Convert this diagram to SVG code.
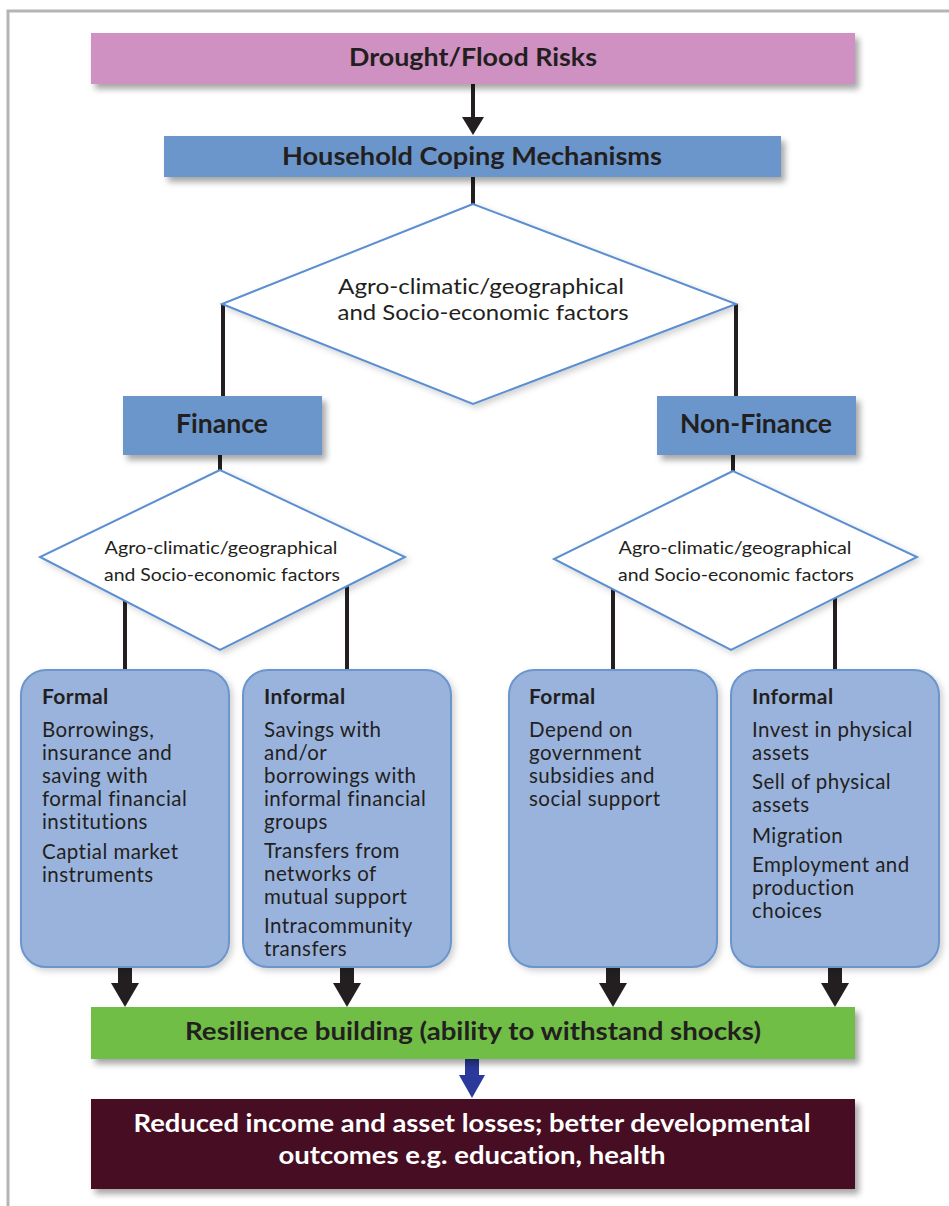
<svg xmlns="http://www.w3.org/2000/svg" width="949" height="1206" viewBox="0 0 949 1206">
<defs>
<style>
text{font-variant-ligatures:none;font-feature-settings:"liga" 0,"dlig" 0}
.frame{fill:none;stroke:#b5b5b5;stroke-width:3}
.hdr{font-family:Lato,"Open Sans","Liberation Sans",sans-serif;font-weight:bold;fill:#231f20;text-anchor:middle}
.body{font-family:Lato,"Open Sans","Liberation Sans",sans-serif;font-size:20.5px;letter-spacing:0.45px;fill:#231f20}
.sub{font-family:Lato,"Open Sans","Liberation Sans",sans-serif;font-size:21px;letter-spacing:0.4px;font-weight:bold;fill:#231f20}
.dtext{font-family:Lato,"Open Sans","Liberation Sans",sans-serif;fill:#231f20;text-anchor:middle}
.dia{fill:#ffffff;stroke:#5b8fd0;stroke-width:2}
.rbox{fill:#9ab3dc;stroke:#6a96cc;stroke-width:2}
.blue{fill:#6a96cc}
.conn{stroke:#231f20;stroke-width:4;fill:none}
.fat{stroke:#231f20;stroke-width:14;fill:none}
</style>
<filter id="sh" x="-10%" y="-20%" width="130%" height="160%">
<feDropShadow dx="4" dy="5" stdDeviation="3" flood-color="#000" flood-opacity="0.35"/>
</filter>
<filter id="shl" x="-10%" y="-10%" width="130%" height="130%">
<feDropShadow dx="3" dy="3" stdDeviation="3" flood-color="#000" flood-opacity="0.18"/>
</filter>
<marker id="ah" markerUnits="userSpaceOnUse" viewBox="0 0 18 22" refX="0" refY="11" markerWidth="18" markerHeight="22" orient="auto">
<path d="M0,0 L18,11 L0,22 z" fill="#231f20"/>
</marker>
<marker id="fah" markerUnits="userSpaceOnUse" viewBox="0 0 24 28" refX="0" refY="14" markerWidth="24" markerHeight="28" orient="auto">
<path d="M0,0 L24,14 L0,28 z" fill="#231f20"/>
</marker>
<marker id="bah" markerUnits="userSpaceOnUse" viewBox="0 0 23 26" refX="0" refY="13" markerWidth="23" markerHeight="26" orient="auto">
<path d="M0,0 L23,13 L0,26 z" fill="#2b3a9a"/>
</marker>
</defs>
<rect width="949" height="1206" fill="#ffffff"/>
<path class="frame" d="M8,1206 V11 H949"/>

<g id="connectors">
<line class="conn" x1="473" y1="84" x2="473" y2="117" marker-end="url(#ah)"/>
<line class="conn" x1="473" y1="177" x2="473" y2="204"/>
<line class="conn" x1="223" y1="304" x2="223" y2="397"/>
<line class="conn" x1="736" y1="304" x2="736" y2="397"/>
<line class="conn" x1="220" y1="455" x2="220" y2="471"/>
<line class="conn" x1="733" y1="455" x2="733" y2="472"/>
<line class="conn" x1="125" y1="600" x2="125" y2="671"/>
<line class="conn" x1="347" y1="585" x2="347" y2="671"/>
<line class="conn" x1="613" y1="588" x2="613" y2="671"/>
<line class="conn" x1="835" y1="596" x2="835" y2="671"/>
<line class="fat" x1="125" y1="967" x2="125" y2="983" marker-end="url(#fah)"/>
<line class="fat" x1="347" y1="967" x2="347" y2="983" marker-end="url(#fah)"/>
<line class="fat" x1="613" y1="967" x2="613" y2="983" marker-end="url(#fah)"/>
<line class="fat" x1="835" y1="967" x2="835" y2="983" marker-end="url(#fah)"/>
<line x1="472" y1="1059" x2="472" y2="1075" stroke="#2b3a9a" stroke-width="14" marker-end="url(#bah)"/>
</g>

<g id="drought">
<rect x="91" y="33" width="764" height="51" fill="#cf91c1" filter="url(#sh)"/>
<text class="hdr" x="473" y="66" font-size="25" textLength="248" lengthAdjust="spacingAndGlyphs">Drought/Flood Risks</text>
</g>

<g id="household">
<rect class="blue" x="164" y="136" width="617" height="41" filter="url(#sh)"/>
<text class="hdr" x="472" y="165" font-size="25" textLength="380" lengthAdjust="spacingAndGlyphs">Household Coping Mechanisms</text>
</g>

<g id="factors-main">
<polygon class="dia" points="473,204 222,304 473,404 736,304" filter="url(#shl)"/>
<text class="dtext" x="481" y="294" font-size="21" textLength="286" lengthAdjust="spacingAndGlyphs">Agro-climatic/geographical</text>
<text class="dtext" x="483" y="320" font-size="21" textLength="291" lengthAdjust="spacingAndGlyphs">and Socio-economic factors</text>
</g>

<g id="finance">
<rect class="blue" x="123" y="396" width="199" height="59" filter="url(#sh)"/>
<text class="hdr" x="222" y="433" font-size="26" textLength="92" lengthAdjust="spacingAndGlyphs">Finance</text>
</g>

<g id="nonfinance">
<rect class="blue" x="657" y="396" width="199" height="59" filter="url(#sh)"/>
<text class="hdr" x="756" y="433" font-size="26" textLength="152" lengthAdjust="spacingAndGlyphs">Non-Finance</text>
</g>

<g id="factors-finance">
<polygon class="dia" points="220,470 40,557 220,650 405,557" filter="url(#shl)"/>
<text class="dtext" x="221" y="554" font-size="17.5" textLength="233" lengthAdjust="spacingAndGlyphs">Agro-climatic/geographical</text>
<text class="dtext" x="222" y="581" font-size="17.5" textLength="236" lengthAdjust="spacingAndGlyphs">and Socio-economic factors</text>
</g>

<g id="factors-nonfinance">
<polygon class="dia" points="733,471 554,559 731,650 917,557" filter="url(#shl)"/>
<text class="dtext" x="735" y="554" font-size="17.5" textLength="233" lengthAdjust="spacingAndGlyphs">Agro-climatic/geographical</text>
<text class="dtext" x="736" y="581" font-size="17.5" textLength="236" lengthAdjust="spacingAndGlyphs">and Socio-economic factors</text>
</g>

<g id="finance-formal">
<rect class="rbox" x="21" y="670" width="208" height="297" rx="25" ry="25" filter="url(#shl)"/>
<text class="sub" x="42" y="704">Formal</text>
<text class="body" x="42" y="737">Borrowings,</text>
<text class="body" x="42" y="760">insurance and</text>
<text class="body" x="42" y="783">saving with</text>
<text class="body" x="42" y="806">formal financial</text>
<text class="body" x="42" y="829">institutions</text>
<text class="body" x="42" y="859">Captial market</text>
<text class="body" x="42" y="882">instruments</text>
</g>

<g id="finance-informal">
<rect class="rbox" x="243" y="670" width="208" height="297" rx="25" ry="25" filter="url(#shl)"/>
<text class="sub" x="264" y="704">Informal</text>
<text class="body" x="264" y="737">Savings with</text>
<text class="body" x="264" y="760">and/or</text>
<text class="body" x="264" y="783">borrowings with</text>
<text class="body" x="264" y="806">informal financial</text>
<text class="body" x="264" y="829">groups</text>
<text class="body" x="264" y="858">Transfers from</text>
<text class="body" x="264" y="881">networks of</text>
<text class="body" x="264" y="904">mutual support</text>
<text class="body" x="264" y="933">Intracommunity</text>
<text class="body" x="264" y="956">transfers</text>
</g>

<g id="nonfinance-formal">
<rect class="rbox" x="509" y="670" width="208" height="297" rx="25" ry="25" filter="url(#shl)"/>
<text class="sub" x="529" y="704">Formal</text>
<text class="body" x="529" y="737">Depend on</text>
<text class="body" x="529" y="760">government</text>
<text class="body" x="529" y="783">subsidies and</text>
<text class="body" x="529" y="806">social support</text>
</g>

<g id="nonfinance-informal">
<rect class="rbox" x="731" y="670" width="208" height="297" rx="25" ry="25" filter="url(#shl)"/>
<text class="sub" x="752" y="704">Informal</text>
<text class="body" x="752" y="737">Invest in physical</text>
<text class="body" x="752" y="760">assets</text>
<text class="body" x="752" y="789">Sell of physical</text>
<text class="body" x="752" y="812">assets</text>
<text class="body" x="752" y="843">Migration</text>
<text class="body" x="752" y="872">Employment and</text>
<text class="body" x="752" y="895">production</text>
<text class="body" x="752" y="918">choices</text>
</g>

<g id="resilience">
<rect x="91" y="1007" width="764" height="52" fill="#6fbe44" filter="url(#sh)"/>
<text class="hdr" x="473" y="1040" font-size="25" textLength="576" lengthAdjust="spacingAndGlyphs">Resilience building (ability to withstand shocks)</text>
</g>

<g id="outcomes">
<rect x="91" y="1099" width="764" height="90" fill="#460f21" filter="url(#sh)"/>
<text class="hdr" x="472" y="1132" font-size="24" style="fill:#ffffff" textLength="677" lengthAdjust="spacingAndGlyphs">Reduced income and asset losses; better developmental</text>
<text class="hdr" x="472" y="1164" font-size="24" style="fill:#ffffff" textLength="387" lengthAdjust="spacingAndGlyphs">outcomes e.g. education, health</text>
</g>
</svg>
